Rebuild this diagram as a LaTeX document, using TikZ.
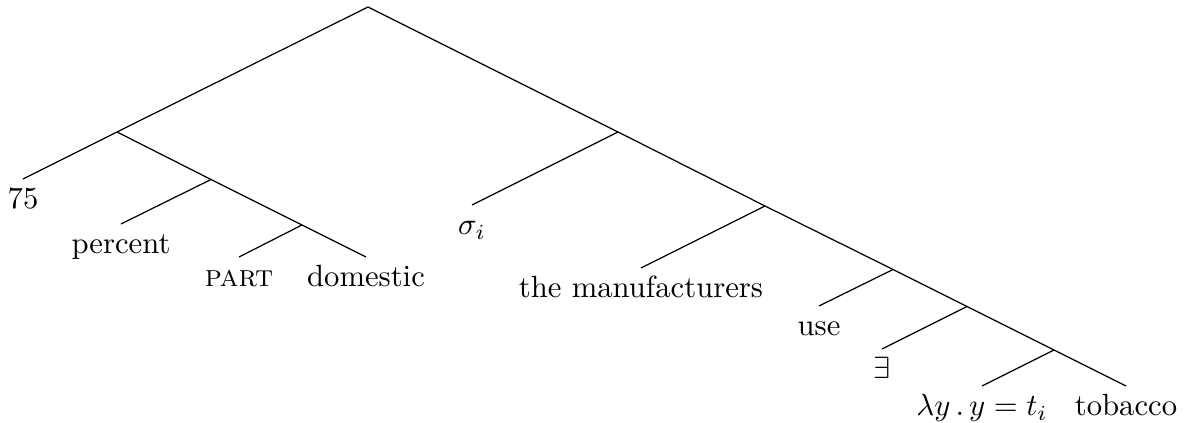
\documentclass[tikz,border=0pt]{standalone}
\begin{document}
\begin{tikzpicture}[x=0.326pt, y=-0.326pt,
    leaf/.style={anchor=north, inner sep=3pt, text height=1.5ex, text depth=.25ex}]
    \useasboundingbox (0,0) rectangle (1194,423);
    % branching points
    \coordinate (r) at (368,7);
    \coordinate (a) at (117,132);
    \coordinate (a1) at (211,179.5);
    \coordinate (a2) at (302,225);
    \coordinate (b) at (618,132);
    \coordinate (b1) at (765,206);
    \coordinate (b2) at (893,269.5);
    \coordinate (b3) at (967,306.5);
    \coordinate (b4) at (1054,350);
    % leaves
    \node[leaf] (l75) at (23,179) {75};
    \node[leaf] (percent) at (121,224) {percent};
    \node[leaf] (part) at (239,257) {\textsc{part}};
    \node[leaf] (domestic) at (366,257) {domestic};
    \node[leaf] (sigma) at (472,205) {$\sigma_i$};
    \node[leaf] (manuf) at (641,268) {the manufacturers};
    \node[leaf] (use) at (819,306) {use};
    \node[leaf] (exists) at (882,349) {$\exists$};
    \node[leaf] (lambda) at (982,386) {$\lambda y\,.\,y\mathrel{=}t_i$};
    \node[leaf] (tobacco) at (1126,386) {tobacco};
    \foreach \p/\q in {r/a, a/a1, a1/a2, r/b, b/b1, b1/b2, b2/b3, b3/b4}
      \draw (\p) -- (\q);
    \foreach \p/\q in {a/l75, a1/percent, a2/part, a2/domestic, b/sigma,
        b1/manuf, b2/use, b3/exists, b4/lambda, b4/tobacco}
      \draw (\p) -- (\q.north);
\end{tikzpicture}
\end{document}
